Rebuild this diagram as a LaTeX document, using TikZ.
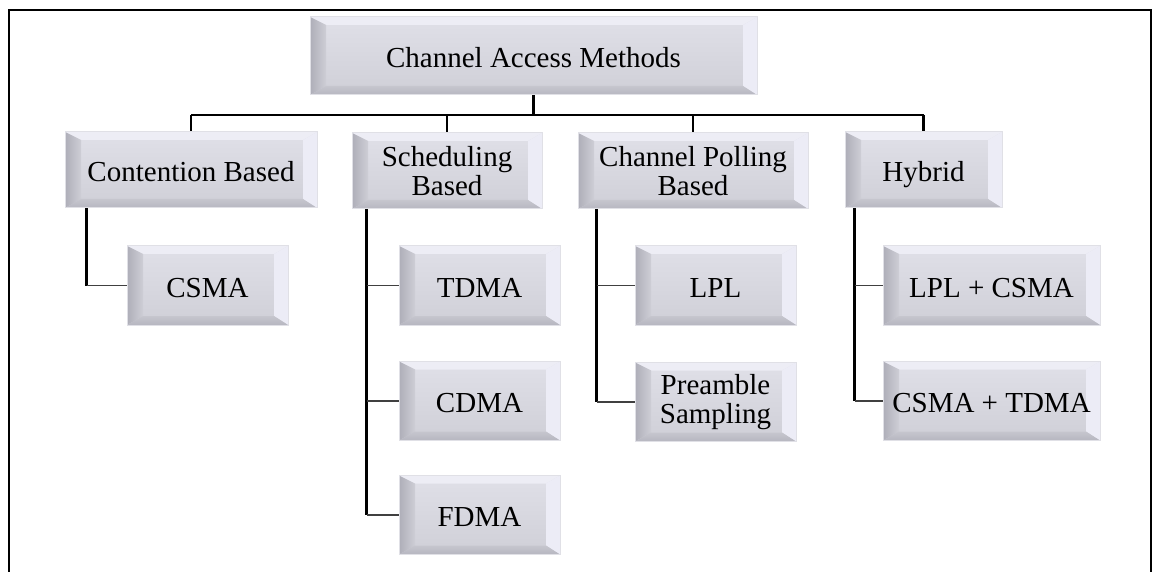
\documentclass[tikz,border=0pt]{standalone}
\usepackage{fontspec}
\setmainfont{Liberation Serif}
\usetikzlibrary{calc}

% bevelled box colours
\definecolor{facetop}{RGB}{224,224,232}
\definecolor{facebot}{RGB}{207,207,215}
\definecolor{bvtop}{RGB}{237,237,245}
\definecolor{bvright}{RGB}{236,236,246}
\definecolor{bvleftout}{RGB}{174,174,184}
\definecolor{bvleftin}{RGB}{206,206,214}
\definecolor{bvbotin}{RGB}{198,198,206}
\definecolor{bvbotout}{RGB}{182,182,192}
\definecolor{bvedge}{RGB}{224,224,230}

\newcommand\boxfont{\fontsize{29}{29}\selectfont}

\tikzset{
  bevel/.style={
    path picture={
      \def\pb{path picture bounding box}
      % top band
      \fill[bvtop] (\pb.north west) -- (\pb.north east)
        -- ([shift={(-14pt,-8pt)}]\pb.north east)
        -- ([shift={(16pt,-8pt)}]\pb.north west) -- cycle;
      % right band
      \fill[bvright] (\pb.north east) -- (\pb.south east)
        -- ([shift={(-14pt,9pt)}]\pb.south east)
        -- ([shift={(-14pt,-8pt)}]\pb.north east) -- cycle;
      % left band
      \shade[left color=bvleftout, right color=bvleftin] (\pb.north west)
        -- ([shift={(16pt,-8pt)}]\pb.north west)
        -- ([shift={(16pt,9pt)}]\pb.south west)
        -- (\pb.south west) -- cycle;
      % bottom band
      \shade[top color=bvbotin, bottom color=bvbotout] (\pb.south west)
        -- ([shift={(16pt,9pt)}]\pb.south west)
        -- ([shift={(-14pt,9pt)}]\pb.south east)
        -- (\pb.south east) -- cycle;
    }
  },
  box/.style={rectangle, inner sep=0pt, align=center, font=\boxfont,
    top color=facetop, bottom color=facebot, draw=bvedge, line width=1pt, bevel},
  oneline/.style={text height=26pt, text depth=3pt},
  leaf/.style={box, minimum width=161pt, minimum height=79pt},
  mid/.style={box, minimum height=76pt},
  tree/.style={line width=2.1pt, draw=black},
  stub/.style={line width=1.9pt, draw=black!75},
  frame/.style={line width=2.6pt, draw=black}
}

\begin{document}
\begin{tikzpicture}[x=1pt, y=-1pt]
\useasboundingbox (0,0) rectangle (1154,572);

% outer frame, open at the bottom
\draw[frame] (9,572) -- (9,10) -- (1151,10) -- (1151,572);

% root
\node[box, oneline, minimum width=447pt, minimum height=78pt] (cam) at (533.5,56) {Channel Access Methods};

% categories
\node[mid, oneline, minimum width=252pt] (cb) at (191,170) {Contention Based};
\node[mid, minimum width=190pt] (sb) at (447,171) {Scheduling\\Based};
\node[mid, minimum width=230pt] (cp) at (693,171) {Channel Polling\\Based};
\node[mid, oneline, minimum width=157pt] (hy) at (923.5,170) {Hybrid};

% methods
\node[leaf, oneline] (csma) at (207.5,285.5) {CSMA};
\node[leaf, oneline] (tdma) at (479.5,285.5) {TDMA};
\node[leaf, oneline] (cdma) at (479.5,401) {CDMA};
\node[leaf, oneline] (fdma) at (479.5,515) {FDMA};
\node[leaf, oneline] (lpl) at (715.5,285.5) {LPL};
\node[leaf] (pre) at (715.5,402) {Preamble\\Sampling};
\node[leaf, oneline, minimum width=217pt] (lc) at (991.5,285.5) {LPL + CSMA};
\node[leaf, oneline, minimum width=217pt] (ct) at (991.5,401) {CSMA + TDMA};

% root to categories
\coordinate (bus) at (0,115);
\draw[tree] (cam.south) -- (cam.south |- bus);
\draw[tree] (cb.north |- bus) -- (hy.north |- bus);
\foreach \n in {cb,sb,cp,hy}
  \draw[tree] (\n.north |- bus) -- (\n.north);

% category spines
\coordinate (cbx) at ([xshift=22pt]cb.south west);
\coordinate (sbx) at ([xshift=15pt]sb.south west);
\coordinate (cpx) at ([xshift=19pt]cp.south west);
\coordinate (hyx) at ([xshift=10pt]hy.south west);

\draw[tree] (cbx) -- (cbx |- csma.west);
\draw[stub] (cbx |- csma.west) -- (csma.west);

\draw[tree] (sbx) -- (sbx |- fdma.west);
\foreach \n in {tdma,cdma,fdma}
  \draw[stub] (sbx |- \n.west) -- (\n.west);

\draw[tree] (cpx) -- (cpx |- pre.west);
\foreach \n in {lpl,pre}
  \draw[stub] (cpx |- \n.west) -- (\n.west);

\draw[tree] (hyx) -- (hyx |- ct.west);
\foreach \n in {lc,ct}
  \draw[stub] (hyx |- \n.west) -- (\n.west);
\end{tikzpicture}
\end{document}
